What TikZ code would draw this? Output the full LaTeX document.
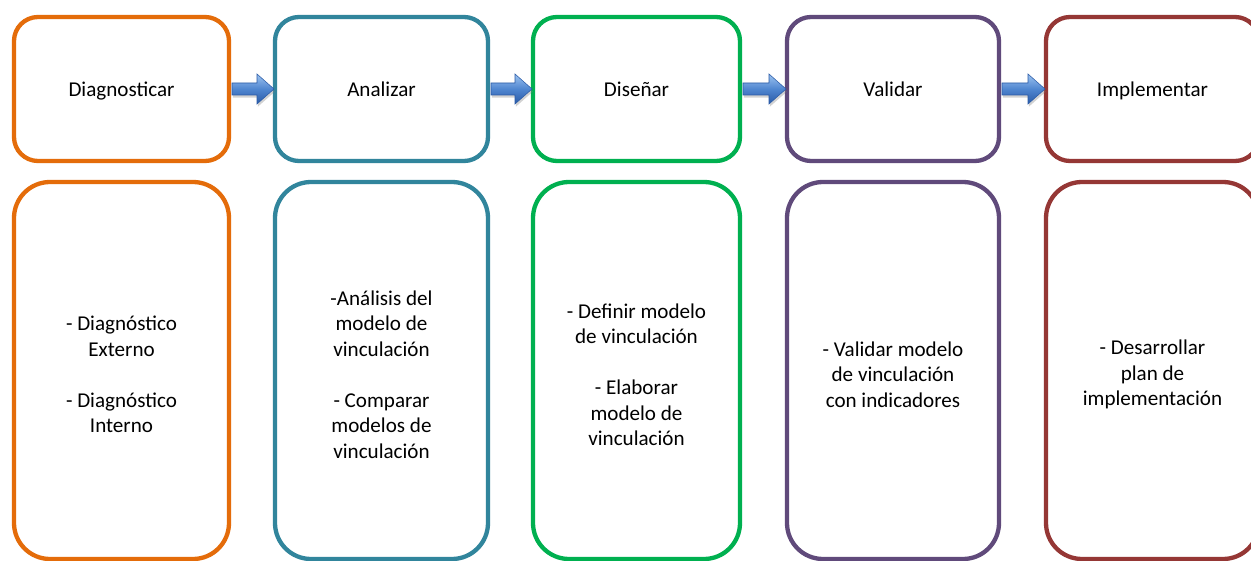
\documentclass[tikz,border=0pt]{standalone}
\usepackage{fontspec}
\setmainfont{Carlito}
\usetikzlibrary{calc,shadows}
\definecolor{naranja}{HTML}{E46C0A}
\definecolor{turquesa}{HTML}{31859C}
\definecolor{verde}{HTML}{00B050}
\definecolor{morado}{HTML}{604A7B}
\definecolor{granate}{HTML}{953735}
\definecolor{flechaClaro}{HTML}{9DC3F0}
\definecolor{flechaMedio}{HTML}{4F86D0}
\definecolor{flechaOscuro}{HTML}{2A5AA6}
\newcommand{\puntal}{\rule{0pt}{13pt}}
\tikzset{
  etapa/.style={draw=#1, line width=2.45pt, rounded corners=0.48cm, minimum height=2.88cm,
    inner sep=0pt, outer sep=0pt, font=\fontsize{12}{14.5}\selectfont,
    text height=8.2pt, text depth=0pt},
  tareas/.style={etapa=#1, rounded corners=0.72cm, minimum height=7.54cm, align=center,
    text height=, text depth=},
  flecha/.style={top color=flechaClaro, bottom color=flechaOscuro, middle color=flechaMedio,
    draw=flechaOscuro, line width=0.3pt,
    drop shadow={opacity=0.35, shadow xshift=0.5pt, shadow yshift=-1.5pt}}
}
\newcommand{\flechaEtapa}[2]{%
  \path[flecha] ($(#1.east)+(3,-6)$) -- ($(#2.west)+(-18,-6)$) -- ($(#2.west)+(-18,-15)$)
    -- ($(#2.west)+(-1,0)$) -- ($(#2.west)+(-18,15)$) -- ($(#2.west)+(-18,6)$)
    -- ($(#1.east)+(3,6)$) -- cycle;}
\begin{document}
\begin{tikzpicture}[x=0.2mm,y=-0.2mm]
  % lienzo
  \useasboundingbox (0,0) rectangle (1251,561);
  \fill[white] (0,0) rectangle (1251,561);
  \clip (0,0) rectangle (1251,561);
  % Etapas
  \node[etapa=naranja, minimum width=4.30cm] (diagnosticar) at (121.5,89) {Diagnosticar};
  \node[etapa=turquesa, minimum width=4.26cm] (analizar) at (381.5,89) {Analizar};
  \node[etapa=verde, minimum width=4.14cm] (disenar) at (636.5,89) {Diseñar};
  \node[etapa=morado, minimum width=4.24cm] (validar) at (893,89) {Validar};
  \node[etapa=granate, minimum width=4.26cm] (implementar) at (1152.5,89) {Implementar};
  % Actividades de cada etapa
  \node[tareas=naranja, minimum width=4.30cm] (actDiag) at (121.5,370.5)
    {\puntal- Diagnóstico\\ Externo\\[14.5pt] - Diagnóstico\\ Interno};
  \node[tareas=turquesa, minimum width=4.26cm] (actAnal) at (381.5,370.5)
    {\puntal-Análisis del\\ modelo de\\ vinculación\\[14.5pt] - Comparar\\ modelos de\\ vinculación};
  \node[tareas=verde, minimum width=4.14cm] (actDise) at (636.5,370.5)
    {\puntal- Definir modelo\\ de vinculación\\[14.5pt] - Elaborar\\ modelo de\\ vinculación};
  \node[tareas=morado, minimum width=4.24cm] (actVali) at (893,370.5)
    {\puntal- Validar modelo\\ de vinculación\\ con indicadores};
  \node[tareas=granate, minimum width=4.26cm] (actImpl) at (1152.5,370.5)
    {\puntal- Desarrollar\\ plan de\\ implementación};
  % Flechas entre etapas
  \flechaEtapa{diagnosticar}{analizar}
  \flechaEtapa{analizar}{disenar}
  \flechaEtapa{disenar}{validar}
  \flechaEtapa{validar}{implementar}
\end{tikzpicture}
\end{document}
